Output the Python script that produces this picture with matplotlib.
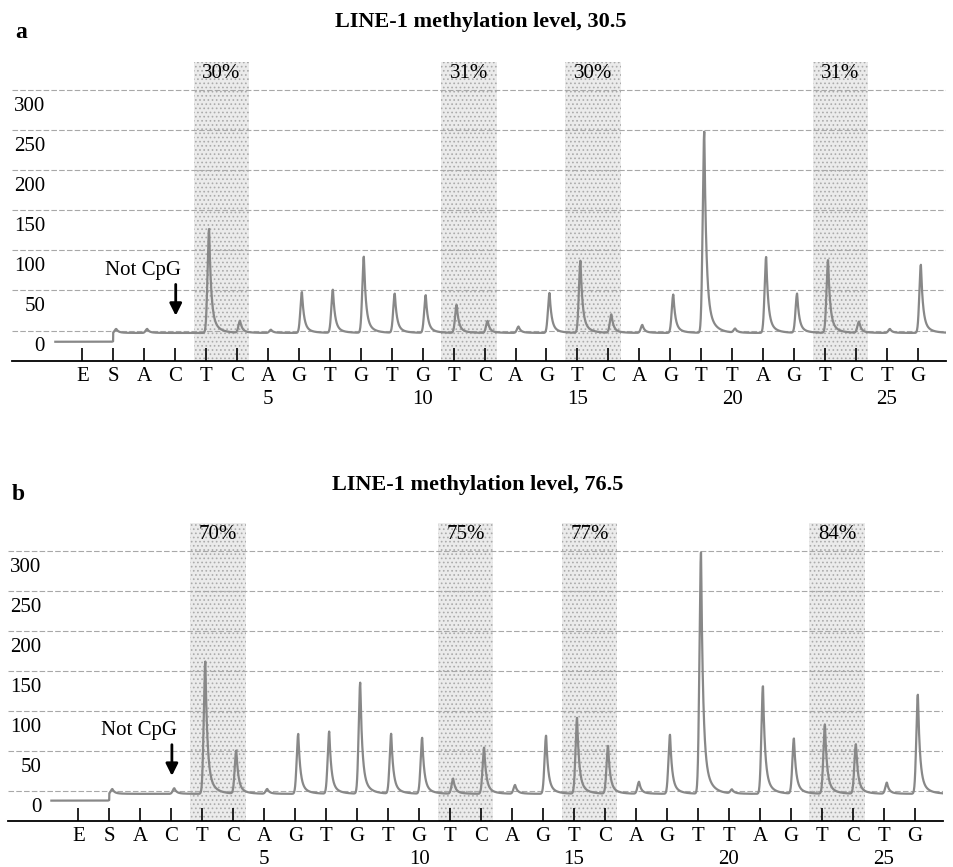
import numpy as np
import matplotlib
matplotlib.use('Agg')
from matplotlib import pyplot as plt

plt.rcParams['font.family'] = ['Liberation Serif', 'DejaVu Serif']
plt.rcParams['hatch.linewidth'] = 0.7

# dispensation order: E and S first, then nucleotides 1..26
dispensation = ['E', 'S', 'A', 'C', 'T', 'C', 'A', 'G', 'T', 'G', 'T', 'G', 'T', 'C',
                'A', 'G', 'T', 'C', 'A', 'G', 'T', 'T', 'A', 'G', 'T', 'C', 'T', 'G']
positions = list(range(-1, 27))

# peak heights above the baseline, one per dispensation
heights_a = [0, 5, 5, 0, 130, 15, 4, 51, 54, 95, 49, 47, 35, 15,
             8, 50, 90, 23, 10, 48, 251, 5, 95, 49, 91, 14, 5, 85]
heights_b = [0, 6, 0, 7, 166, 54, 6, 75, 78, 139, 75, 70, 19, 58,
             11, 73, 95, 60, 15, 74, 302, 5, 135, 69, 87, 62, 14, 124]

# CpG sites (T/C pairs) and their methylation
cpg_start = [3, 11, 15, 23]
pct_a = ['30%', '31%', '30%', '31%']
pct_b = ['70%', '75%', '77%', '84%']

titles = ['LINE-1 methylation level, 30.5', 'LINE-1 methylation level, 76.5']
panel_letters = ['a', 'b']
y_levels = [0, 50, 100, 150, 200, 250, 300]
numbered = [5, 10, 15, 20, 25]

W, H = 954, 867
fig = plt.figure(figsize=(W / 100, H / 100), dpi=100)


def peak(x, center, h):
    dx = (x - center) * 30.95  # in pixels
    rise = np.exp(-(dx / 2.2) ** 2)
    fall = 0.82 * np.exp(-dx / 2.0) + 0.18 * np.exp(-dx / 7.0)
    return h * np.where(dx < 0, rise, fall)


def draw_panel(ax, heights, pct, pre_level, base_level, axes_h_px):
    ax.set_xlim(-3.27, 26.91)
    ax.set_ylim(-38, 335)

    for s, lab in zip(cpg_start, pct):
        ax.axvspan(s - 0.4, s + 1.4, ymin=0, ymax=1, facecolor='#ebebeb',
                   edgecolor='#ababab', hatch='....', linewidth=0, zorder=0)
        ax.text(s + 0.5, 321, lab, ha='center', va='center', fontsize=15)

    for v in y_levels:
        ax.axhline(v, color='#a8a8a8', lw=0.8, ls=(0, (5, 2)), zorder=1)
        ax.text(-2.2, v - 20.5, str(v), ha='right', va='center', fontsize=15)

    x = np.linspace(-1.87, 26.91, 6000)
    y = np.where(x < 0.0, pre_level, base_level).astype(float)
    for p, h in zip(positions, heights):
        if h > 0:
            y = y + peak(x, p + 0.1, h)
    ax.plot(x, y, color='#888888', lw=1.6, zorder=3)

    ax.set_xticks(positions)
    ax.set_xticklabels(dispensation, fontsize=15)
    ax.tick_params(axis='x', direction='in', length=9.5, width=1.2, pad=4)
    ax.set_yticks([])
    for side in ['top', 'left', 'right']:
        ax.spines[side].set_visible(False)
    ax.spines['bottom'].set_linewidth(1.3)

    for n in numbered:
        ax.text(n, -38 / axes_h_px, str(n), ha='center', va='center', fontsize=15,
                transform=ax.get_xaxis_transform())

    ax.text(0.96, 75, 'Not CpG', ha='center', va='center', fontsize=15)
    ax.annotate('', xy=(2.02, 15), xytext=(2.02, 61),
                arrowprops=dict(arrowstyle='-|>', color='k', lw=2, mutation_scale=18))


# panel a
ax_a = fig.add_axes([12 / W, 1 - 361 / H, 934 / W, 299 / H])
draw_panel(ax_a, heights_a, pct_a, -14, -3, 299)
# panel b
ax_b = fig.add_axes([8 / W, 1 - 821 / H, 935 / W, 298 / H])
draw_panel(ax_b, heights_b, pct_b, -12.5, -4, 298)

fig.text(481 / W, 1 - 22 / H, titles[0], ha='center', va='center', fontsize=16, fontweight='bold')
fig.text(478 / W, 1 - 485 / H, titles[1], ha='center', va='center', fontsize=16, fontweight='bold')
fig.text(21 / W, 1 - 33 / H, panel_letters[0], ha='center', va='center', fontsize=17, fontweight='bold')
fig.text(18 / W, 1 - 495 / H, panel_letters[1], ha='center', va='center', fontsize=17, fontweight='bold')

fig.savefig('out.png', dpi=100)
